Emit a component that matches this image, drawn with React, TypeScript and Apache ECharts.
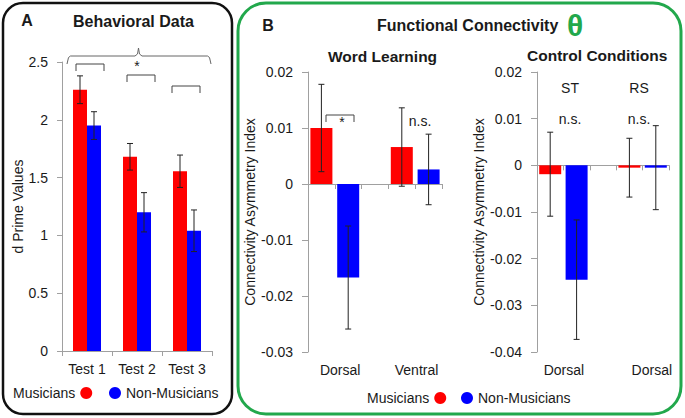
import React, { useEffect, useRef } from "react";
import * as echarts from "echarts";

// ---------- Data ----------
// Panel A: behavioral data (d prime)
const aCategories = ["Test 1", "Test 2", "Test 3"];
const aMusicians = [2.26, 1.68, 1.555];
const aMusiciansErr = [0.12, 0.115, 0.14];
const aNonMusicians = [1.95, 1.2, 1.04];
const aNonMusiciansErr = [0.12, 0.17, 0.18];
const aTicks = [0, 0.5, 1, 1.5, 2, 2.5];

// Panel B left: word learning
const wlRegions = ["Dorsal", "Ventral"];
const wlMusicians = [0.01, 0.0066];
const wlMusiciansErr = [0.0078, 0.007];
const wlNonMusicians = [-0.0167, 0.0026];
const wlNonMusiciansErr = [0.0092, 0.0063];

// Panel B right: control conditions
const ccConditions = ["ST", "RS"];
const ccRegions = ["Dorsal", "Dorsal"];
const ccMusicians = [-0.0019, -0.0005];
const ccMusiciansErr = [0.009, 0.0063];
const ccNonMusicians = [-0.0245, -0.0005];
const ccNonMusiciansErr = [0.0128, 0.009];

const seriesNames = ["Musicians", "Non-Musicians"];

// ---------- Layout / style ----------
const FONT = "Liberation Sans, Arial, sans-serif";
const RED = "#ff0000";
const BLUE = "#0000ff";
const GREEN = "#22a84c";
const AXIS = "#a0a0a0";
const TEXT = "#1a1a1a";
const SLOTS = ["s0", "s1", "s2", "s3", "s4"];
const wlLabelPos = [1.2, 4.05];
const ccLabelPos = [1.02, 4.35];

function slotData(vals: number[], first: boolean) {
  const out: (number | string)[] = ["-", "-", "-", "-", "-"];
  vals.forEach((v, i) => {
    out[i * 3 + (first ? 0 : 1)] = v;
  });
  return out;
}
function slotErr(vals: number[], errs: number[], first: boolean) {
  return vals.map((v, i) => [i * 3 + (first ? 0 : 1), v, errs[i]]);
}

function errRender(offset: number) {
  return (params: any, api: any) => {
    const x = api.value(0);
    const v = api.value(1);
    const e = api.value(2);
    const p1 = api.coord([x, v + e]);
    const p2 = api.coord([x, v - e]);
    const cx = p1[0] + offset;
    const w = 3;
    const style = { stroke: "#222", lineWidth: 1 };
    return {
      type: "group",
      children: [
        { type: "line", shape: { x1: cx, y1: p1[1], x2: cx, y2: p2[1] }, style },
        { type: "line", shape: { x1: cx - w, y1: p1[1], x2: cx + w, y2: p1[1] }, style },
        { type: "line", shape: { x1: cx - w, y1: p2[1], x2: cx + w, y2: p2[1] }, style },
      ],
    };
  };
}

function labelFormatter(pos: number[], names: string[]) {
  return (v: number) => {
    for (let i = 0; i < pos.length; i++) {
      if (Math.abs(v - pos[i]) < 0.3) return names[i];
    }
    return "";
  };
}

const axisLineStyle = { show: true, lineStyle: { color: AXIS, width: 1 } };
const labelStyle = { fontSize: 14, color: TEXT, fontFamily: FONT };

function txt(text: string, x: number, y: number, opts: any = {}) {
  return {
    type: "text",
    x,
    y,
    style: {
      text,
      fontSize: opts.size || 14,
      fontWeight: opts.bold ? "bold" : "normal",
      fontFamily: FONT,
      fill: opts.color || TEXT,
      align: opts.align || "center",
      verticalAlign: "middle",
    },
  };
}
function poly(points: number[][], color = "#444") {
  return {
    type: "polyline",
    shape: { points },
    style: { stroke: color, lineWidth: 1, fill: "none" },
  };
}

export default function App() {
  const ref = useRef<HTMLDivElement>(null);
  useEffect(() => {
    if (!ref.current) return;
    const chart = echarts.init(ref.current, undefined, { renderer: "svg" });
    const legendBase = {
      icon: "circle", itemWidth: 12, itemHeight: 12, selectedMode: false,
      textStyle: labelStyle, padding: 0,
    };
    const option: any = {
      animation: false,
      backgroundColor: "#ffffff",
      grid: [
        { left: 62, top: 62, width: 150, height: 289 },
        { left: 308, top: 72, width: 134, height: 280 },
        { left: 537, top: 72, width: 132, height: 280 },
      ],
      legend: [
        { ...legendBase, data: [seriesNames[0]], left: 13, top: 386, align: "right" },
        { ...legendBase, data: [seriesNames[1]], left: 109, top: 386, align: "left" },
        { ...legendBase, data: [seriesNames[0]], left: 367, top: 391, align: "right" },
        { ...legendBase, data: [seriesNames[1]], left: 461, top: 391, align: "left" },
      ],
      xAxis: [
        {
          gridIndex: 0, type: "category", data: aCategories, boundaryGap: true,
          axisLine: axisLineStyle, axisTick: { show: true, length: 5, lineStyle: { color: AXIS } },
          axisLabel: { ...labelStyle, margin: 11 }, splitLine: { show: false },
        },
        {
          gridIndex: 1, type: "category", data: SLOTS, boundaryGap: true,
          axisLine: { ...axisLineStyle, onZero: true },
          axisTick: { show: true, length: 5, lineStyle: { color: AXIS } },
          axisLabel: { show: false }, splitLine: { show: false },
        },
        {
          gridIndex: 1, type: "value", min: 0, max: 5, interval: 1, position: "bottom",
          axisLine: { show: false, onZero: false }, axisTick: { show: false },
          splitLine: { show: false },
          axisLabel: {
            ...labelStyle, margin: 11, customValues: wlLabelPos,
            formatter: labelFormatter(wlLabelPos, wlRegions),
          },
        },
        {
          gridIndex: 2, type: "category", data: SLOTS, boundaryGap: true,
          axisLine: { ...axisLineStyle, onZero: true },
          axisTick: { show: true, length: 5, lineStyle: { color: AXIS } },
          axisLabel: { show: false }, splitLine: { show: false },
        },
        {
          gridIndex: 2, type: "value", min: 0, max: 5, interval: 1, position: "bottom",
          axisLine: { show: false, onZero: false }, axisTick: { show: false },
          splitLine: { show: false },
          axisLabel: {
            ...labelStyle, margin: 11, customValues: ccLabelPos,
            formatter: labelFormatter(ccLabelPos, ccRegions),
          },
        },
      ],
      yAxis: [
        {
          gridIndex: 0, type: "value", min: aTicks[0], max: aTicks[aTicks.length - 1], interval: 0.5,
          axisLine: axisLineStyle, axisTick: { show: true, length: 5, lineStyle: { color: AXIS } },
          splitLine: { show: false }, axisLabel: { ...labelStyle, margin: 14 },
          name: "d Prime Values", nameLocation: "middle", nameGap: 37,
          nameTextStyle: labelStyle,
        },
        {
          gridIndex: 1, type: "value", min: -0.03, max: 0.02, interval: 0.01,
          axisLine: axisLineStyle, axisTick: { show: true, length: 6, lineStyle: { color: AXIS } },
          splitLine: { show: false }, axisLabel: { ...labelStyle, margin: 15 },
          name: "Connectivity Asymmetry Index", nameLocation: "middle", nameGap: 48,
          nameTextStyle: labelStyle,
        },
        {
          gridIndex: 2, type: "value", min: -0.04, max: 0.02, interval: 0.01,
          axisLine: axisLineStyle, axisTick: { show: true, length: 6, lineStyle: { color: AXIS } },
          splitLine: { show: false }, axisLabel: { ...labelStyle, margin: 15 },
          name: "Connectivity Asymmetry Index", nameLocation: "middle", nameGap: 47,
          nameTextStyle: labelStyle,
        },
      ],
      series: [
        {
          name: seriesNames[0], type: "bar", xAxisIndex: 0, yAxisIndex: 0, data: aMusicians,
          barWidth: 14, barGap: "0%", itemStyle: { color: RED },
        },
        {
          name: seriesNames[1], type: "bar", xAxisIndex: 0, yAxisIndex: 0, data: aNonMusicians,
          barWidth: 14, barGap: "0%", itemStyle: { color: BLUE },
        },
        {
          type: "custom", xAxisIndex: 0, yAxisIndex: 0, z: 5,
          data: aMusicians.map((v, i) => [i, v, aMusiciansErr[i]]),
          encode: { x: 0, y: 1 }, renderItem: errRender(-7),
        },
        {
          type: "custom", xAxisIndex: 0, yAxisIndex: 0, z: 5,
          data: aNonMusicians.map((v, i) => [i, v, aNonMusiciansErr[i]]),
          encode: { x: 0, y: 1 }, renderItem: errRender(7),
        },
        {
          name: seriesNames[0], type: "bar", xAxisIndex: 1, yAxisIndex: 1,
          data: slotData(wlMusicians, true), barWidth: 22, barGap: "-100%", itemStyle: { color: RED },
        },
        {
          name: seriesNames[1], type: "bar", xAxisIndex: 1, yAxisIndex: 1,
          data: slotData(wlNonMusicians, false), barWidth: 22, barGap: "-100%", itemStyle: { color: BLUE },
        },
        {
          type: "custom", xAxisIndex: 1, yAxisIndex: 1, z: 5,
          data: slotErr(wlMusicians, wlMusiciansErr, true),
          encode: { x: 0, y: 1 }, renderItem: errRender(0),
        },
        {
          type: "custom", xAxisIndex: 1, yAxisIndex: 1, z: 5,
          data: slotErr(wlNonMusicians, wlNonMusiciansErr, false),
          encode: { x: 0, y: 1 }, renderItem: errRender(0),
        },
        {
          name: seriesNames[0], type: "bar", xAxisIndex: 3, yAxisIndex: 2,
          data: slotData(ccMusicians, true), barWidth: 22, barGap: "-100%", itemStyle: { color: RED },
        },
        {
          name: seriesNames[1], type: "bar", xAxisIndex: 3, yAxisIndex: 2,
          data: slotData(ccNonMusicians, false), barWidth: 22, barGap: "-100%", itemStyle: { color: BLUE },
        },
        {
          type: "custom", xAxisIndex: 3, yAxisIndex: 2, z: 5,
          data: slotErr(ccMusicians, ccMusiciansErr, true),
          encode: { x: 0, y: 1 }, renderItem: errRender(0),
        },
        {
          type: "custom", xAxisIndex: 3, yAxisIndex: 2, z: 5,
          data: slotErr(ccNonMusicians, ccNonMusiciansErr, false),
          encode: { x: 0, y: 1 }, renderItem: errRender(0),
        },
      ],
      graphic: [
        {
          type: "rect", shape: { x: 3, y: 3, width: 229, height: 411, r: 20 },
          style: { fill: "none", stroke: "#111", lineWidth: 2.5 },
        },
        {
          type: "rect", shape: { x: 238, y: 3, width: 443, height: 411, r: 28 },
          style: { fill: "none", stroke: GREEN, lineWidth: 3 },
        },
        txt("A", 27, 20, { bold: true, size: 16 }),
        txt("Behavioral Data", 73, 21, { bold: true, size: 16, align: "left" }),
        txt("B", 268, 25, { bold: true, size: 16 }),
        txt("Functional Connectivity", 377, 25, { bold: true, size: 16, align: "left" }),
        txt("θ", 575, 25, { bold: true, size: 30, color: GREEN }),
        txt("Word Learning", 328, 56, { bold: true, size: 15.5, align: "left" }),
        txt("Control Conditions", 527, 55, { bold: true, size: 15.5, align: "left" }),
        // panel A significance brackets
        poly([[67, 64], [68.5, 57.5], [70.5, 56], [135, 56], [137.5, 54], [138.5, 48], [139.5, 54], [142, 56], [207.5, 56], [209.5, 57.5], [211, 64]], "#666"),
        poly([[76, 71], [76, 64], [104, 64], [104, 71]]),
        poly([[127, 82], [127, 75], [155, 75], [155, 82]]),
        poly([[172, 93], [172, 86], [200, 86], [200, 93]]),
        txt("*", 137, 66, { size: 14 }),
        // panel B annotations
        poly([[326, 122], [326, 115], [354, 115], [354, 122]]),
        txt("*", 342, 122, { size: 14 }),
        txt("n.s.", 420, 121, { size: 14 }),
        txt(ccConditions[0], 570, 88, { size: 14 }),
        txt(ccConditions[1], 639, 88, { size: 14 }),
        txt("n.s.", 570, 119, { size: 14 }),
        txt("n.s.", 639, 119, { size: 14 }),
      ],
    };
    chart.setOption(option);
    return () => chart.dispose();
  }, []);
  return (
    <div
      ref={ref}
      style={{ position: "absolute", left: 0, top: 0, width: 685, height: 418, background: "#fff" }}
    />
  );
}
